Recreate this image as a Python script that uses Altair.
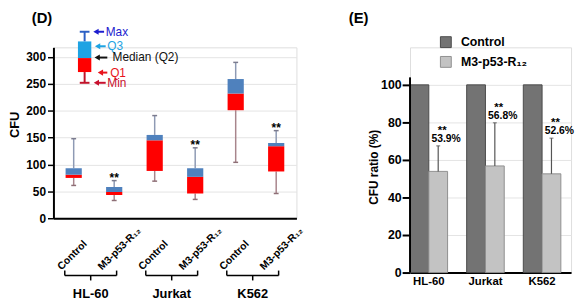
import altair as alt
import pandas as pd

FONT = "Liberation Sans"

# ---------------- Panel (D): CFU box plots ----------------
groups = ["HL-60", "Jurkat", "K562"]
treatments = ["Control", "M3-p53-R₁₂"]
cfu_max = [148, 70, 191, 131, 290, 163]
cfu_q3 = [93, 58, 155, 93, 259, 140]
cfu_median = [81, 49, 145, 77, 232, 134]
cfu_q1 = [75, 43, 88, 46, 201, 87]
cfu_min = [61, 33, 69, 35, 104, 46]
cfu_sig = ["", "**", "", "**", "", "**"]

# key box that explains the box plot
key_names = ["Max", "Q3", "Median (Q2)", "Q1", "Min"]
key_box = [347, 329, 298, 272, 252]        # max, q3, median, q1, min
key_arrow_at = [347, 320, 299, 271, 252]
key_colors = ["#1d1dcf", "#1ea3e3", "#111111", "#e8141c", "#c8102e"]
# layout of the key arrows (offsets from the key box, in category units)
key_head_off = [0.21, 0.25, 0.24, 0.32, 0.22]
key_tail_off = [0.48, 0.52, 0.56, 0.56, 0.52]
key_label_off = [0.52, 0.56, 0.69, 0.63, 0.56]

# ---------------- Panel (E): CFU ratio bars ----------------
ratio_control = [100, 100, 100]
ratio_m3 = [53.9, 56.8, 52.6]
ratio_m3_sd = [13.6, 23.0, 19.0]
ratio_sig = ["**", "**", "**"]

# ---------------- build tables ----------------
n = len(cfu_max)
dfD = pd.DataFrame({
    "idx": list(range(n)),
    "treatment": treatments * len(groups),
    "max": cfu_max, "q3": cfu_q3, "med": cfu_median, "q1": cfu_q1, "min": cfu_min,
    "sig": cfu_sig,
})
dfD["bl"] = dfD["idx"] - 0.2
dfD["br"] = dfD["idx"] + 0.2
dfD["cl"] = dfD["idx"] - 0.06
dfD["cr"] = dfD["idx"] + 0.06
dfD["lx"] = dfD["idx"] - 0.3

dfB = pd.DataFrame({"group": groups, "g": list(range(len(groups)))})
dfB["gl"] = dfB["g"] * 2 - 0.22
dfB["gr"] = dfB["g"] * 2 + 1 + 0.06
dfB["gm"] = (dfB["gl"] + dfB["gr"]) / 2

kx = 0.27
dfK = pd.DataFrame({
    "x": [kx], "bl": [kx - 0.165], "br": [kx + 0.165], "cl": [kx - 0.12], "cr": [kx + 0.12],
    "max": [key_box[0]], "q3": [key_box[1]], "med": [key_box[2]], "q1": [key_box[3]], "min": [key_box[4]],
})
dfKT = pd.DataFrame({
    "name": key_names,
    "at": key_arrow_at,
    "head": [kx + o + 0.07 for o in key_head_off],
    "tail": [kx + o for o in key_tail_off],
    "lab": [kx + o for o in key_label_off],
})

xscD = alt.Scale(domain=[-0.5, 5.5], nice=False, zero=False)
xaxD = alt.Axis(title=None, labels=False, ticks=False, grid=False,
                domainColor="black", domainWidth=2)
yscD = alt.Scale(domain=[0, 318], nice=False, zero=True)
yaxD = alt.Axis(values=[0, 50, 100, 150, 200, 250, 300], grid=True, gridColor="#e4e4e4",
                domainColor="black", domainWidth=2, tickColor="black", tickWidth=1.5,
                tickSize=6, labelPadding=2, labelFontSize=12, labelFontWeight="bold",
                labelColor="black", title="CFU", titleFontSize=13, titleFontWeight="bold",
                titleColor="black", titleX=-39, titleY=78, titleAngle=270,
                titleAlign="center", titleBaseline="middle")


def XD(f):
    return alt.X(f"{f}:Q", scale=xscD, axis=xaxD)


def YD(f):
    return alt.Y(f"{f}:Q", scale=yscD, axis=yaxD)


baseD = alt.Chart(dfD)
up_wh = baseD.mark_rule(color="#8e9ab4", strokeWidth=1.5).encode(x=XD("idx"), y=YD("q3"), y2="max")
lo_wh = baseD.mark_rule(color="#a8858c", strokeWidth=1.5).encode(x=XD("idx"), y=YD("min"), y2="q1")
cap_hi = baseD.mark_rule(color="#7b7b8e", strokeWidth=1.5).encode(x=XD("cl"), x2="cr", y=YD("max"))
cap_lo = baseD.mark_rule(color="#8e6f76", strokeWidth=1.5).encode(x=XD("cl"), x2="cr", y=YD("min"))
box_lo = baseD.mark_rect(color="#ff0000").encode(x=XD("bl"), x2="br", y=YD("q1"), y2="med")
box_hi = baseD.mark_rect(color="#4f81bd").encode(x=XD("bl"), x2="br", y=YD("med"), y2="q3")
sigD = baseD.mark_text(fontSize=12, fontWeight="bold", baseline="alphabetic", dy=1,
                       color="black").encode(x=XD("idx"), y=YD("max"), text="sig:N")
xlab = baseD.mark_text(angle=315, align="left", baseline="alphabetic", fontSize=10.5,
                       fontWeight="bold", color="black").encode(
    x=XD("lx"), y=alt.value(226), text="treatment:N")

baseB = alt.Chart(dfB)
br_h = baseB.mark_rule(color="black", strokeWidth=1.5).encode(x=XD("gl"), x2="gr", y=alt.value(231))
br_l = baseB.mark_rule(color="black", strokeWidth=1.5).encode(x=XD("gl"), y=alt.value(226), y2=alt.value(231))
br_r = baseB.mark_rule(color="black", strokeWidth=1.5).encode(x=XD("gr"), y=alt.value(226), y2=alt.value(231))
br_m = baseB.mark_rule(color="black", strokeWidth=1.5).encode(x=XD("gm"), y=alt.value(231), y2=alt.value(236))
glab = baseB.mark_text(fontSize=13, fontWeight="bold", baseline="middle", color="black").encode(
    x=XD("gm"), y=alt.value(249.5), text="group:N")

baseK = alt.Chart(dfK)
k_up = baseK.mark_rule(color="#2b5fc4", strokeWidth=2).encode(x=XD("x"), y=YD("q3"), y2="max")
k_lo = baseK.mark_rule(color="#c0142a", strokeWidth=2).encode(x=XD("x"), y=YD("min"), y2="q1")
k_caphi = baseK.mark_rule(color="#2b5fc4", strokeWidth=2).encode(x=XD("cl"), x2="cr", y=YD("max"))
k_caplo = baseK.mark_rule(color="#c0142a", strokeWidth=2).encode(x=XD("cl"), x2="cr", y=YD("min"))
k_boxhi = baseK.mark_rect(color="#1ea3e3").encode(x=XD("bl"), x2="br", y=YD("med"), y2="q3")
k_boxlo = baseK.mark_rect(color="#ff0000").encode(x=XD("bl"), x2="br", y=YD("q1"), y2="med")

keycol = alt.Color("name:N", scale=alt.Scale(domain=key_names, range=key_colors), legend=None)
baseKT = alt.Chart(dfKT)
k_shaft = baseKT.mark_rule(strokeWidth=2).encode(x=XD("head"), x2="tail", y=YD("at"), color=keycol)
k_head = baseKT.mark_point(shape="triangle-left", filled=True, size=38, opacity=1).encode(
    x=XD("head"), y=YD("at"), color=keycol)
k_txt = baseKT.mark_text(align="left", baseline="middle", fontSize=12).encode(
    x=XD("lab"), y=YD("at"), text="name:N", color=keycol)

titleD = alt.Chart(pd.DataFrame({"t": ["(D)"]})).mark_text(
    align="left", baseline="top", fontSize=15, fontWeight="bold", color="black").encode(
    x=alt.value(-22), y=alt.value(-37), text="t:N")

chartD = alt.layer(up_wh, lo_wh, cap_hi, cap_lo, box_lo, box_hi, sigD, xlab,
                   br_h, br_l, br_r, br_m, glab,
                   k_up, k_lo, k_caphi, k_caplo, k_boxhi, k_boxlo, k_shaft, k_head, k_txt, titleD
                   ).properties(width=246, height=173)

# ---------------- Panel (E) ----------------
rows = []
for i, g in enumerate(groups):
    rows.append({"group": g, "series": treatments[0], "value": ratio_control[i],
                 "top": None, "sig": "", "pct": ""})
    rows.append({"group": g, "series": treatments[1], "value": ratio_m3[i],
                 "top": ratio_m3[i] + ratio_m3_sd[i], "sig": ratio_sig[i],
                 "pct": f"{ratio_m3[i]:.1f}%"})
dfE = pd.DataFrame(rows)

xE = alt.X("group:N", sort=groups,
           scale=alt.Scale(paddingInner=0.337, paddingOuter=0.09, align=0),
           axis=alt.Axis(title=None, labelAngle=0, ticks=False, domainColor="black",
                         domainWidth=2, labelFontSize=11.5, labelFontWeight="bold",
                         labelColor="black", labelPadding=3))
xoE = alt.XOffset("series:N", sort=treatments, scale=alt.Scale(domain=treatments))
yscE = alt.Scale(domain=[0, 120], nice=False)
yaxE = alt.Axis(values=[0, 20, 40, 60, 80, 100], domain=False, grid=True, gridColor="#e4e4e4",
                tickColor="black", tickWidth=2, tickSize=8, labelPadding=1,
                labelFontSize=12.5, labelFontWeight="bold", labelColor="black",
                title="CFU ratio (%)", titleFontSize=12, titleFontWeight="bold",
                titleColor="black", titleX=-37, titleY=121, titleAngle=270,
                titleAlign="center", titleBaseline="middle")


def YE(f):
    return alt.Y(f"{f}:Q", scale=yscE, axis=yaxE)


baseE = alt.Chart(dfE)
barsE = baseE.mark_bar(strokeWidth=1).encode(
    x=xE, xOffset=xoE, y=YE("value"),
    color=alt.Color("series:N", sort=treatments,
                    scale=alt.Scale(domain=treatments, range=["#737373", "#c3c3c3"]),
                    legend=alt.Legend(orient="none", legendX=30, legendY=-11.5, title=None,
                                      symbolType="square", symbolSize=121,
                                      symbolStrokeColor="#4a4a4a", symbolStrokeWidth=1,
                                      labelFontSize=12.5, labelFontWeight="bold",
                                      labelColor="black", labelOffset=9, rowPadding=4,
                                      padding=0)),
    stroke=alt.Stroke("series:N", sort=treatments,
                      scale=alt.Scale(domain=treatments, range=["#4a4a4a", "#8f8f8f"]),
                      legend=None))
m3 = baseE.transform_filter(alt.datum.series == treatments[1])
errE = m3.mark_rule(color="#555555", strokeWidth=1.2).encode(x=xE, xOffset=xoE, y=YE("value"), y2="top")
capE = m3.mark_tick(color="#555555", size=4, thickness=1.2).encode(x=xE, xOffset=xoE, y=YE("top"))
sigE = m3.mark_text(fontSize=11.5, fontWeight="bold", baseline="alphabetic", dx=4, dy=-12,
                    color="black").encode(x=xE, xOffset=xoE, y=YE("top"), text="sig:N")
pctE = m3.mark_text(fontSize=10.5, fontWeight="bold", baseline="alphabetic", dx=8, dy=-4,
                    color="black").encode(x=xE, xOffset=xoE, y=YE("top"), text="pct:N")
axisLineE = alt.Chart(pd.DataFrame({"lo": [0], "hi": [104]})).mark_rule(
    color="black", strokeWidth=2).encode(x=alt.value(0), y=YE("lo"), y2="hi")
titleE = alt.Chart(pd.DataFrame({"t": ["(E)"]})).mark_text(
    align="left", baseline="top", fontSize=15, fontWeight="bold", color="black").encode(
    x=alt.value(-62), y=alt.value(-37), text="t:N")

chartE = alt.layer(barsE, errE, capE, sigE, pctE, axisLineE, titleE).properties(width=163, height=228)

chart = alt.hconcat(chartD, chartE, spacing=42).resolve_scale(
    color="independent", stroke="independent"
).properties(padding=0).configure_view(stroke=None).configure(
    font=FONT
).configure_axis(labelFont=FONT, titleFont=FONT).configure_text(font=FONT).configure_legend(
    labelFont=FONT)

chart.save("out.html", embed_options={"renderer": "svg", "actions": False})
